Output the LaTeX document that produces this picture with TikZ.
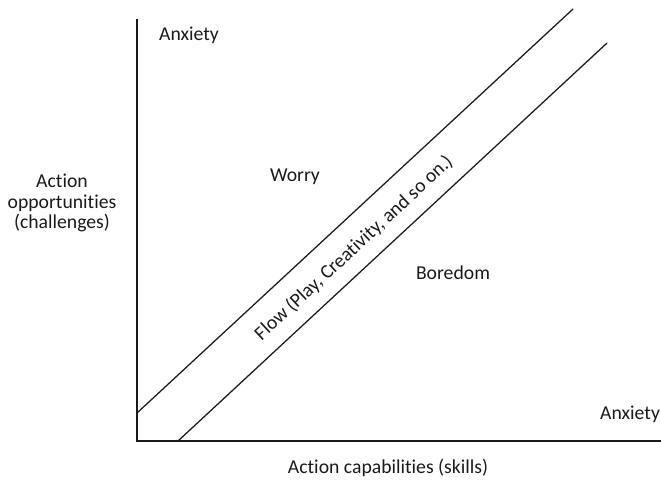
\documentclass[tikz,border=0pt]{standalone}
\usepackage{fontspec}
\setmainfont{Carlito}[Ligatures=NoCommon]
\usepackage{tikz}
\usetikzlibrary{calc}
\definecolor{ink}{HTML}{1A1A1A}
\tikzset{
  axis/.style={draw=ink, line width=0.9pt},
  band/.style={draw=ink, line width=0.9pt, line cap=round},
  lab/.style={text=ink, font=\fontsize{14}{14.6}\selectfont, inner sep=0pt, align=center},
}
\begin{document}
\begin{tikzpicture}[x=0.025cm,y=0.025cm]
  \useasboundingbox (-137,-42) rectangle (524,441);
  \coordinate (O) at (0,0);
  \coordinate (Y) at (0,422);
  \coordinate (X) at (524,0);
  \coordinate (U1) at (0,28);
  \coordinate (U2) at (436,432);
  \coordinate (L1) at (41,0);
  \coordinate (L2) at (470,398);
  \draw[axis] (Y) -- (O) -- (X);
  \draw[band] (U1) -- (U2);
  \draw[band] (L1) -- (L2);
  \node[lab] (anxtop) at (52,406) {Anxiety};
  \node[lab] (worry) at (158,264) {Worry};
  \node[lab] (bored) at (316,168) {Boredom};
  \node[lab] (anxright) at (493,27) {Anxiety};
  \node[lab] (yl) at (-75,238) {Action\\opportunities\\(challenges)};
  \node[lab] (xl) at (251,-27) {Action capabilities (skills)};
  \node[lab,rotate=42.8] (flow) at (217,193) {Flow (Play, Creativity, and so on.)};
\end{tikzpicture}
\end{document}
